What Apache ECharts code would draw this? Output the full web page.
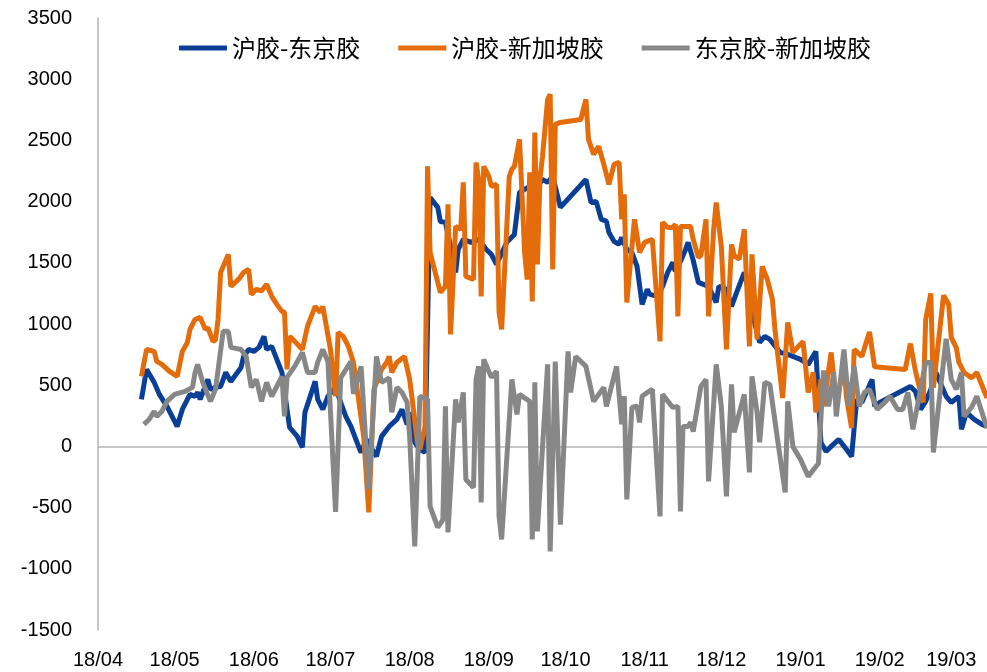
<!DOCTYPE html>
<html>
<head>
<meta charset="utf-8">
<script src="https://cdn.jsdelivr.net/npm/echarts@6/dist/echarts.min.js"></script>
<style>
  html, body { margin: 0; padding: 0; background: #fff; }
  #chart { width: 987px; height: 672px; }
</style>
</head>
<body>
<div id="chart"></div>
<script>
// 沪胶-东京胶
let hdDates = ['2018-04-18','2018-04-20','2018-04-23','2018-04-25','2018-04-28','2018-05-02','2018-05-04','2018-05-07','2018-05-09','2018-05-10',
  '2018-05-11','2018-05-14','2018-05-15','2018-05-17','2018-05-19','2018-05-21','2018-05-23','2018-05-25','2018-05-27','2018-05-28',
  '2018-05-30','2018-06-01','2018-06-03','2018-06-05','2018-06-06','2018-06-08','2018-06-10','2018-06-12','2018-06-14','2018-06-15',
  '2018-06-18','2018-06-20','2018-06-21','2018-06-25','2018-06-26','2018-06-28','2018-06-30','2018-07-03','2018-07-05','2018-07-07',
  '2018-07-09','2018-07-12','2018-07-13','2018-07-15','2018-07-19','2018-07-21','2018-07-24','2018-07-27','2018-07-29','2018-07-31',
  '2018-08-01','2018-08-03','2018-08-05','2018-08-07','2018-08-09','2018-08-12','2018-08-13','2018-08-15','2018-08-17','2018-08-19',
  '2018-08-20','2018-08-22','2018-08-25','2018-08-28','2018-08-31','2018-09-02','2018-09-04','2018-09-08','2018-09-11','2018-09-13',
  '2018-09-15','2018-09-17','2018-09-20','2018-09-22','2018-09-24','2018-09-26','2018-09-29','2018-10-09','2018-10-11','2018-10-13',
  '2018-10-15','2018-10-17','2018-10-18','2018-10-20','2018-10-22','2018-10-23','2018-10-25','2018-10-27','2018-10-29','2018-10-31',
  '2018-11-02','2018-11-03','2018-11-06','2018-11-08','2018-11-10','2018-11-12','2018-11-13','2018-11-15','2018-11-17','2018-11-18',
  '2018-11-20','2018-11-22','2018-11-26','2018-11-29','2018-11-30','2018-12-03','2018-12-05','2018-12-07','2018-12-10','2018-12-12',
  '2018-12-14','2018-12-16','2018-12-18','2018-12-20','2018-12-24','2018-12-27','2019-01-01','2019-01-04','2019-01-07','2019-01-09',
  '2019-01-11','2019-01-13','2019-01-16','2019-01-19','2019-01-21','2019-01-23','2019-01-25','2019-01-29','2019-01-30','2019-02-01',
  '2019-02-13','2019-02-15','2019-02-17','2019-02-19','2019-02-21','2019-02-23','2019-02-25','2019-02-27','2019-03-01','2019-03-04',
  '2019-03-05','2019-03-07','2019-03-10','2019-03-13','2019-03-15'];
let hdValues = [384,629,523,425,327,163,302,425,409,441,
  384,547,466,482,490,604,531,588,645,735,
  792,776,809,899,792,817,711,604,302,155,
  82,-8,278,531,384,302,409,482,359,245,
  163,0,-49,57,-82,82,163,220,302,180,
  278,33,-25,-49,2034,1953,1838,1830,1634,1421,
  1609,1691,1667,1691,1609,1569,1487,1667,1732,2075,
  2100,2124,2124,2181,2157,2206,1953,2181,1993,2002,
  1855,1840,1748,1675,1650,1707,1609,1585,1471,1160,
  1283,1242,1226,1307,1421,1503,1430,1511,1609,1667,
  1520,1340,1307,1176,1307,1283,1144,1258,1421,1250,
  1013,850,899,874,768,752,711,670,776,33,
  -41,0,57,-25,-82,384,359,547,327,359,
  490,449,302,368,466,604,506,409,359,409,
  139,278,220,180,163];

// 沪胶-新加坡胶
let hsDates = ['2018-04-18','2018-04-20','2018-04-23','2018-04-24','2018-04-26','2018-04-29','2018-05-02','2018-05-04','2018-05-06','2018-05-07',
  '2018-05-09','2018-05-11','2018-05-13','2018-05-14','2018-05-16','2018-05-17','2018-05-18','2018-05-19','2018-05-22','2018-05-23',
  '2018-05-26','2018-05-28','2018-05-30','2018-05-31','2018-06-02','2018-06-04','2018-06-06','2018-06-08','2018-06-10','2018-06-12',
  '2018-06-13','2018-06-14','2018-06-15','2018-06-17','2018-06-20','2018-06-22','2018-06-25','2018-06-27','2018-06-28','2018-07-01',
  '2018-07-03','2018-07-04','2018-07-06','2018-07-08','2018-07-10','2018-07-14','2018-07-16','2018-07-18','2018-07-21','2018-07-23',
  '2018-07-24','2018-07-25','2018-07-27','2018-07-30','2018-08-01','2018-08-02','2018-08-04','2018-08-05','2018-08-07','2018-08-08',
  '2018-08-09','2018-08-11','2018-08-13','2018-08-15','2018-08-16','2018-08-17','2018-08-19','2018-08-21','2018-08-22','2018-08-23',
  '2018-08-26','2018-08-27','2018-08-28','2018-08-29','2018-08-30','2018-09-01','2018-09-02','2018-09-04','2018-09-05','2018-09-06',
  '2018-09-09','2018-09-10','2018-09-11','2018-09-13','2018-09-15','2018-09-16','2018-09-17','2018-09-18','2018-09-19','2018-09-20',
  '2018-09-21','2018-09-22','2018-09-24','2018-09-25','2018-09-26','2018-09-27','2018-09-29','2018-10-07','2018-10-09','2018-10-10',
  '2018-10-12','2018-10-14','2018-10-16','2018-10-18','2018-10-20','2018-10-22','2018-10-23','2018-10-24','2018-10-25','2018-10-28',
  '2018-10-30','2018-11-01','2018-11-04','2018-11-07','2018-11-08','2018-11-10','2018-11-12','2018-11-13','2018-11-14','2018-11-15',
  '2018-11-19','2018-11-20','2018-11-22','2018-11-23','2018-11-25','2018-11-26','2018-11-28','2018-11-29','2018-12-01','2018-12-03',
  '2018-12-05','2018-12-06','2018-12-08','2018-12-10','2018-12-12','2018-12-13','2018-12-15','2018-12-17','2018-12-19','2018-12-21',
  '2018-12-22','2018-12-25','2018-12-27','2018-12-29','2019-01-02','2019-01-04','2019-01-06','2019-01-07','2019-01-09','2019-01-10',
  '2019-01-13','2019-01-15','2019-01-18','2019-01-19','2019-01-21','2019-01-22','2019-01-25','2019-01-28','2019-01-30','2019-02-11',
  '2019-02-13','2019-02-15','2019-02-18','2019-02-19','2019-02-21','2019-02-22','2019-02-26','2019-02-28','2019-03-01','2019-03-03',
  '2019-03-04','2019-03-06','2019-03-09','2019-03-11','2019-03-15'];
let hsValues = [572,792,776,694,670,613,572,776,850,956,
  1037,1054,956,970,858,870,1037,1421,1569,1307,
  1364,1421,1446,1242,1283,1270,1324,1226,1160,1103,
  1095,629,899,858,792,980,1144,1095,1144,792,
  409,931,899,817,686,82,-539,466,629,686,
  735,604,686,735,547,384,33,-25,163,2288,
  1585,1421,1258,1307,1977,915,1797,1773,2157,1389,
  1364,2320,2181,1226,2288,2206,2124,2141,1095,956,
  2206,2263,2288,2508,1585,1364,2239,1185,2565,1487,
  2181,2369,2835,2876,1446,2631,2647,2671,2835,2508,
  2386,2451,2304,2141,2304,2320,1855,2059,1176,1855,
  1585,1667,1691,858,1830,1789,1789,1814,1062,1797,
  1797,1691,1544,1560,1855,1062,1773,1993,1634,792,
  1650,1560,1528,1773,817,1569,874,1471,1364,1201,
  956,395,1013,768,858,441,604,278,547,327,
  768,359,654,400,150,792,735,935,650,629,
  840,615,359,1037,1250,480,1234,1160,890,805,
  686,604,560,604,395];

// 东京胶-新加坡胶
let dsDates = ['2018-04-19','2018-04-21','2018-04-23','2018-04-24','2018-04-26','2018-04-28','2018-05-01','2018-05-05','2018-05-08','2018-05-09',
  '2018-05-10','2018-05-12','2018-05-15','2018-05-17','2018-05-20','2018-05-22','2018-05-23','2018-05-27','2018-05-29','2018-05-31',
  '2018-06-02','2018-06-04','2018-06-06','2018-06-08','2018-06-10','2018-06-12','2018-06-13','2018-06-14','2018-06-17','2018-06-20',
  '2018-06-22','2018-06-25','2018-06-26','2018-06-28','2018-06-30','2018-07-03','2018-07-05','2018-07-09','2018-07-10','2018-07-13',
  '2018-07-15','2018-07-16','2018-07-19','2018-07-21','2018-07-23','2018-07-24','2018-07-25','2018-07-27','2018-07-29','2018-07-31',
  '2018-08-01','2018-08-03','2018-08-05','2018-08-08','2018-08-09','2018-08-12','2018-08-14','2018-08-15','2018-08-16','2018-08-19',
  '2018-08-20','2018-08-22','2018-08-23','2018-08-26','2018-08-27','2018-08-28','2018-08-29','2018-08-30','2018-09-02','2018-09-04',
  '2018-09-05','2018-09-06','2018-09-10','2018-09-12','2018-09-13','2018-09-17','2018-09-18','2018-09-19','2018-09-20','2018-09-24',
  '2018-09-25','2018-09-27','2018-09-29','2018-10-02','2018-10-03','2018-10-05','2018-10-09','2018-10-12','2018-10-14','2018-10-16',
  '2018-10-17','2018-10-19','2018-10-21','2018-10-23','2018-10-24','2018-10-25','2018-10-27','2018-10-29','2018-10-30','2018-10-31',
  '2018-11-02','2018-11-04','2018-11-07','2018-11-08','2018-11-10','2018-11-12','2018-11-14','2018-11-15','2018-11-16','2018-11-18',
  '2018-11-19','2018-11-20','2018-11-23','2018-11-25','2018-11-26','2018-11-29','2018-12-01','2018-12-03','2018-12-05','2018-12-06',
  '2018-12-10','2018-12-12','2018-12-13','2018-12-15','2018-12-16','2018-12-18','2018-12-20','2018-12-23','2018-12-26','2018-12-27',
  '2018-12-29','2019-01-01','2019-01-04','2019-01-08','2019-01-10','2019-01-12','2019-01-14','2019-01-15','2019-01-18','2019-01-20',
  '2019-01-22','2019-01-24','2019-01-26','2019-01-28','2019-01-31','2019-02-03','2019-02-05','2019-02-08','2019-02-10','2019-02-12',
  '2019-02-14','2019-02-19','2019-02-21','2019-02-22','2019-02-27','2019-03-01','2019-03-03','2019-03-05','2019-03-06','2019-03-09',
  '2019-03-11','2019-03-15'];
let dsValues = [180,220,286,245,286,368,425,449,482,604,
  670,523,368,466,940,940,809,792,735,482,
  547,368,523,409,490,572,245,564,654,768,
  604,604,686,792,694,-535,560,694,430,654,
  -25,-351,735,523,547,560,278,482,441,359,
  82,-817,409,384,-490,-662,-600,327,-703,384,
  196,441,-270,-335,547,654,-458,711,564,613,
  -572,-760,547,261,425,368,-760,523,-694,670,
  -858,694,-640,776,441,735,654,368,425,482,
  327,490,654,180,409,-433,319,330,196,409,
  441,466,-572,425,370,319,327,-531,163,163,
  196,122,490,547,-286,670,327,-409,506,114,
  425,-212,572,278,33,523,506,57,-376,368,
  0,-106,-245,-140,620,327,604,245,792,327,
  654,327,441,466,302,359,409,302,302,441,
  139,686,686,-49,880,547,466,604,245,320,
  409,150];

let seriesNames = ['沪胶-东京胶', '沪胶-新加坡胶', '东京胶-新加坡胶'];
let yTicks = {min: -1500, max: 3500, step: 500};

function pairs(dates, values) {
    return dates.map(function (d, i) { return [d, values[i]]; });
}

let chart = echarts.init(document.getElementById('chart'));
let numFont = "'Liberation Sans', Arial, sans-serif";

let option = {
    animation: false,
    color: ['#0a3f97', '#e46c0a', '#878787'],
    grid: {left: 98, right: 0, top: 18, bottom: 42},
    legend: {
        top: 31,
        left: 174,
        icon: 'rect',
        itemWidth: 48,
        itemHeight: 5,
        itemGap: 38,
        textStyle: {fontSize: 24, color: '#000', fontFamily: "'Noto Sans CJK SC', sans-serif"},
        data: seriesNames
    },
    xAxis: [
        {
            // labels along the bottom
            type: 'time',
            min: '2018-04-01',
            max: '2019-03-15',
            splitNumber: 12,
            minInterval: 28 * 86400000,
            maxInterval: 31 * 86400000,
            position: 'bottom',
            axisLine: {show: false, onZero: false},
            axisTick: {show: false},
            splitLine: {show: false},
            axisLabel: {
                fontSize: 20,
                color: '#000',
                fontFamily: numFont,
                margin: 20,
                hideOverlap: false,
                formatter: function (v) {
                    let d = new Date(v);
                    let mm = d.getMonth() + 1;
                    return String(d.getFullYear()).slice(2) + '/' + (mm < 10 ? '0' + mm : mm);
                }
            }
        },
        {
            // zero line
            type: 'time',
            min: '2018-04-01',
            max: '2019-03-15',
            axisLine: {show: true, onZero: true, lineStyle: {color: '#b4b4b4', width: 1.5}},
            axisTick: {show: false},
            axisLabel: {show: false},
            splitLine: {show: false}
        }
    ],
    yAxis: {
        type: 'value',
        min: yTicks.min,
        max: yTicks.max,
        interval: yTicks.step,
        axisLine: {show: true, lineStyle: {color: '#b4b4b4', width: 1.5}},
        axisTick: {show: false},
        splitLine: {show: false},
        axisLabel: {
            fontSize: 20, color: '#000', fontFamily: numFont, margin: 26,
            formatter: function (v) { return String(v); }
        }
    },
    series: [
        {name: seriesNames[0], type: 'line', showSymbol: false, data: pairs(hdDates, hdValues),
            lineStyle: {width: 5}},
        {name: seriesNames[1], type: 'line', showSymbol: false, data: pairs(hsDates, hsValues),
            lineStyle: {width: 5}},
        {name: seriesNames[2], type: 'line', showSymbol: false, data: pairs(dsDates, dsValues),
            lineStyle: {width: 5}}
    ]
};
chart.setOption(option);
</script>
</body>
</html>
